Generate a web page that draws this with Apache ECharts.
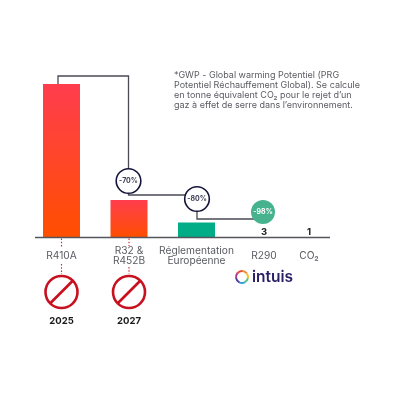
<!DOCTYPE html>
<html><head><meta charset="utf-8">
<style>html,body{margin:0;padding:0;background:#fff}#c{width:400px;height:400px}</style>
<script src="https://cdn.jsdelivr.net/npm/echarts@6/dist/echarts.min.js"></script>
</head><body><div id="c"></div>
<script>
// Blank categories act as spacers: the chart's columns are not evenly spaced.
const categories = ['', 'R410A', '', '', 'R32 &\nR452B', '', '', 'Réglementation\nEuropéenne', '', '', 'R290', '', 'CO₂', ''];
const gwpValues  = [null, 2088, null, null, 510, null, null, 205, null, null, 3, null, 1, null];
const reductions = ['-70%', '-80%', '-98%'];
const bannedYears = ['2025', '2027'];
const noteLines = [
  '*GWP - Global warming Potentiel (PRG',
  'Potentiel Réchauffement Global). Se calcule',
  'en tonne équivalent CO₂ pour le rejet d’un',
  'gaz à effet de serre dans l’environnement.'
];
const FONT = 'Inter, "Open Sans", sans-serif';
const GREY = '#5a5b61', NAVY = '#23233f', LINE = '#4a4a55', RED = '#c9101f';
const redGrad = new echarts.graphic.LinearGradient(0, 0, 0, 1, [{offset: 0, color: '#ff3d4e'}, {offset: 1, color: '#ff4f00'}]);

const chart = echarts.init(document.getElementById('c'), null, {renderer: 'canvas'});
const base = {
  animation: false,
  backgroundColor: '#fff',
  grid: {left: 27.75, width: 315, top: 84, height: 153.5},
  xAxis: {
    type: 'category', data: categories,
    axisLine: {show: false}, axisTick: {show: false},
    axisLabel: {interval: 0, color: GREY, fontFamily: FONT, fontSize: 10.2, lineHeight: 9.6, margin: 18.5, verticalAlign: 'middle', align: 'center'}
  },
  yAxis: {type: 'value', min: 0, max: 2088, show: false},
  series: [{
    type: 'bar', barWidth: 37,
    data: gwpValues.map((v, i) => {
      if (v === null) return null;
      if (v > 300) return {value: v, itemStyle: {color: redGrad}};
      if (v > 100) return {value: v, itemStyle: {color: '#00ad87'}};
      return {value: v, itemStyle: {color: 'transparent'},
        label: {show: true, position: 'top', distance: 0, color: '#222', fontFamily: FONT, fontWeight: 'bold', fontSize: 9.5}};
    })
  }]
};
chart.setOption(base);

const barX = i => chart.convertToPixel({xAxisIndex: 0}, categories[i]);
const x0 = barX(1), x1 = barX(4), x2 = barX(7), x3 = barX(10);
const g = [];
const axisY = 237.5;
const seg = (pts, style) => g.push({type: 'polyline', shape: {points: pts}, style: Object.assign({fill: null, stroke: LINE, lineWidth: 1.3}, style), z: 5});

// axis baseline
seg([[35, axisY], [330, axisY]], {stroke: '#55565c', lineWidth: 1.4});

// connectors
const c1 = [x1 - 0.5, 181], c2 = [x2 + 0.5, 199], c3 = [x3 - 1, 212];
seg([[x0 - 3.5, 84], [x0 - 3.5, 76], [c1[0], 76], [c1[0], c1[1]]]);
seg([[c1[0], c1[1]], [c1[0], 195], [c2[0], 195]]);
seg([[c2[0], c2[1]], [c2[0], 219], [c3[0], 219]]);

// reduction badges
const badge = (c, txt, green) => g.push({
  type: 'circle', shape: {cx: c[0], cy: c[1], r: green ? 12 : 12.3}, z: 6,
  style: {fill: green ? '#46b38e' : '#fff', stroke: green ? null : '#14143a', lineWidth: 1.6},
  textContent: {style: {text: txt, fill: green ? '#fff' : '#3d3d55', font: 'bold 7px ' + FONT, align: 'center', verticalAlign: 'middle'}, z: 7},
  textConfig: {position: 'inside'}
});
badge(c1, reductions[0]); badge(c2, reductions[1]); badge(c3, reductions[2], true);

// banned refrigerants
[x0, x1].forEach((x, i) => {
  const dash = {stroke: '#d4202e', lineWidth: 1.1, lineDash: [1.6, 1.6]};
  seg([[x, 238.5], [x, i ? 246 : 248]], dash);
  seg([[x, i ? 267 : 264], [x, 274]], dash);
  const cy = 292, r = 16;
  g.push({type: 'circle', shape: {cx: x, cy, r}, style: {fill: '#fff', stroke: RED, lineWidth: 2.6}, z: 5});
  g.push({type: 'line', shape: {x1: x - 11.5, y1: cy + 11.5, x2: x + 11.5, y2: cy - 11.5}, style: {stroke: RED, lineWidth: 2.6}, z: 5});
  g.push({type: 'text', style: {x, y: 321, text: bannedYears[i], fill: '#1a1a1a', font: 'bold 9.5px ' + FONT, align: 'center', verticalAlign: 'middle'}});
});

// footnote
noteLines.forEach((t, i) => g.push({type: 'text', style: {x: 174, y: 75 + i * 10, text: t, fill: GREY, font: '9px ' + FONT, align: 'left', verticalAlign: 'middle'}}));

// logo
const ringColors = ['#f28a2e', '#f5c632', '#5cc08a', '#2f9fd8', '#4a3f9f', '#b0347f', '#e8483f'];
ringColors.forEach((color, i) => {
  const a = -Math.PI / 2 + i * 2 * Math.PI / ringColors.length;
  g.push({type: 'arc', shape: {cx: 242, cy: 277, r: 6, startAngle: a, endAngle: a + 2 * Math.PI / ringColors.length + 0.03},
    style: {fill: null, stroke: color, lineWidth: 2}});
});
g.push({type: 'text', style: {x: 252, y: 277, text: 'intuis', fill: '#2a1f66', font: '600 15.5px ' + FONT, align: 'left', verticalAlign: 'middle'}});

chart.setOption({graphic: {elements: g}});
</script></body></html>
